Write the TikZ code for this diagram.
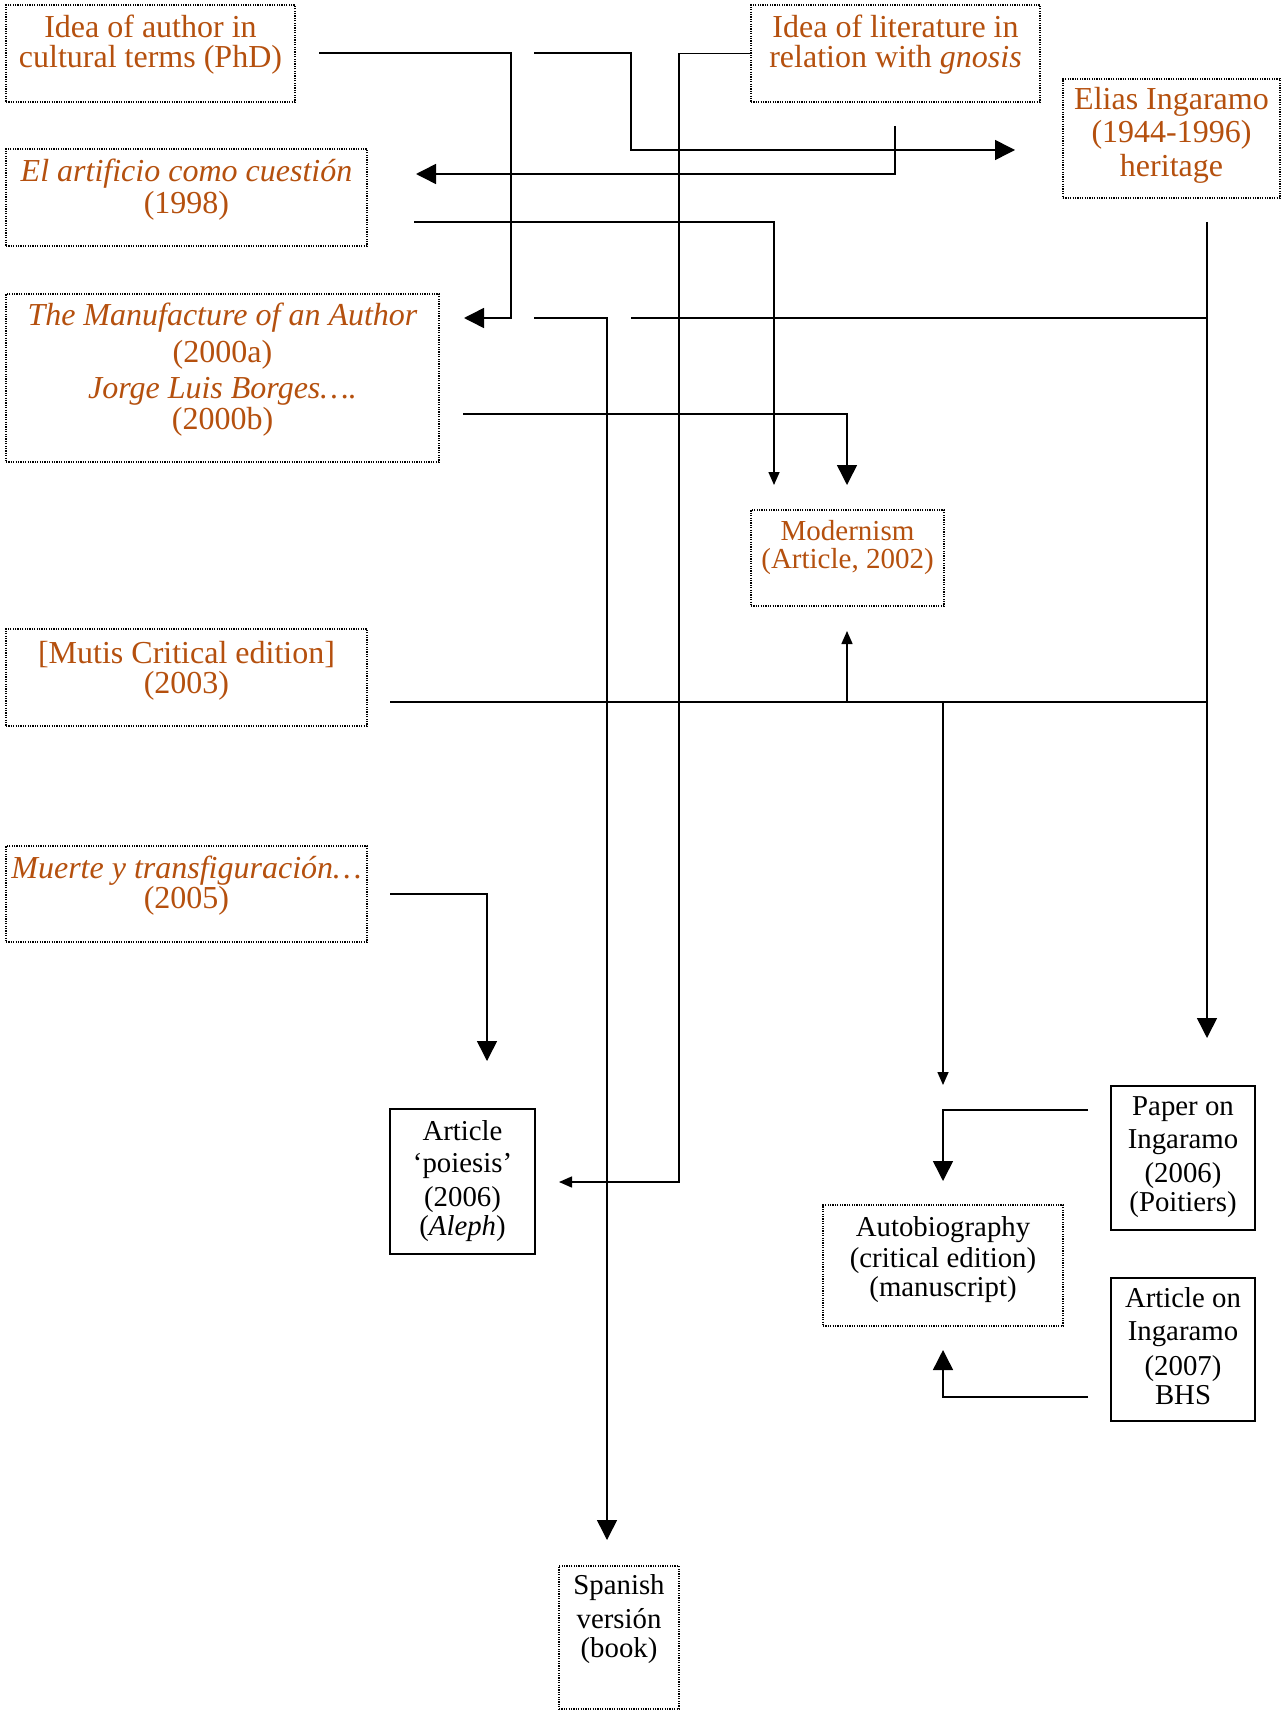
\documentclass[tikz,border=0pt]{standalone}
\usepackage{fontspec}
\setmainfont{Liberation Serif}
\usetikzlibrary{arrows.meta,calc}
\definecolor{brn}{RGB}{181,80,14}
\newcommand{\bx}[4]{\parbox[t][\dimexpr#2pt/2\relax][t]{\dimexpr#1pt/2\relax}{\centering\vspace*{\dimexpr#3pt/2-0.8em\relax}\rule{0pt}{0.8em}#4\par}}
\tikzset{
  dbox/.style={draw, line width=0.7pt, dash pattern=on 0.6pt off 0.6pt, inner sep=0pt, outer sep=0pt, anchor=north west},
  sbox/.style={draw, line width=1pt, inner sep=0pt, outer sep=0pt, anchor=north west},
  otxt/.style={text=brn, font=\fontsize{16}{15}\selectfont},
  mtxt/.style={text=brn, font=\fontsize{14.5}{14.2}\selectfont},
  ktxt/.style={text=black, font=\fontsize{14.4}{14.5}\selectfont},
  con/.style={line width=0.75pt},
  bigarr/.style={con, -{Triangle[length=10pt,width=10pt]}},
  smallarr/.style={con, -{Triangle[length=6.5pt,width=5.5pt]}},
}
\begin{document}
\begin{tikzpicture}[x=0.5pt,y=-0.5pt]
\path[use as bounding box, fill=white] (0,0) rectangle (1282,1712);

% boxes
\node[dbox,otxt] (phd) at (6,5) {\bx{289}{97}{33}{Idea of author in\\cultural terms (PhD)}};
\node[dbox,otxt] (gno) at (751,5) {\bx{289}{97}{33}{Idea of literature in\\relation with \textit{gnosis}}};
\node[dbox,otxt] (eli) at (1063,79) {\bx{217}{119}{31}{Elias Ingaramo\\[1.5pt](1944-1996)\\[2pt]heritage}};
\node[dbox,otxt] (art) at (6,149) {\bx{361}{97}{33}{\textit{El artificio como cuestión}\\[0.6pt](1998)}};
\node[dbox,otxt] (man) at (6,294) {\bx{433}{168}{31}{\textit{The Manufacture of an Author}\\[3.8pt](2000a)\\[2.8pt]\textit{Jorge Luis Borges….}\\[0.8pt](2000b)}};
\node[dbox,mtxt] (mod) at (751,510) {\bx{193}{96}{30}{Modernism\\(Article, 2002)}};
\node[dbox,otxt] (mut) at (6,629) {\bx{361}{97}{34}{[Mutis Critical edition]\\(2003)}};
\node[dbox,otxt] (mue) at (6,846) {\bx{361}{96}{32}{\textit{Muerte y transfiguración…}\\(2005)}};
\node[sbox,ktxt] (poi) at (390,1109) {\bx{145}{145}{31}{Article\\[1.75pt]‘poiesis’\\[2.3pt](2006)\\[0.3pt](\textit{Aleph})}};
\node[sbox,ktxt] (pap) at (1111,1086) {\bx{144}{144}{29}{Paper on\\[2.4pt]Ingaramo\\[2.4pt](2006)\\(Poitiers)}};
\node[dbox,ktxt] (aut) at (823,1205) {\bx{240}{121}{31}{Autobiography\\[1.3pt](critical edition)\\(manuscript)}};
\node[sbox,ktxt] (aon) at (1111,1278) {\bx{144}{143}{29}{Article on\\[2.4pt]Ingaramo\\[2.8pt](2007)\\BHS}};
\node[dbox,ktxt] (spa) at (559,1566) {\bx{120}{143}{28.5}{Spanish\\[2.4pt]versión\\(book)}};

% connector end points
\coordinate (c1a) at (319,53);   \coordinate (c1t) at (464,318);
\coordinate (c2a) at (534,53);   \coordinate (c2t) at (1015,150);
\coordinate (c3t) at (559,1182);
\coordinate (c4a) at (895,126);  \coordinate (c4t) at (416,174);
\coordinate (c5a) at (414,222);  \coordinate (c5t) at (774,485);
\coordinate (c6a) at (463,414);  \coordinate (c6t) at (847,485);
\coordinate (c7a) at (534,318);  \coordinate (c7t) at (607,1540);
\coordinate (c8a) at (631,318);  \coordinate (ej) at (1207,318);
\coordinate (c9a) at (1207,222); \coordinate (c9t) at (1207,1038);
\coordinate (c10a) at (390,702); \coordinate (c10b) at (1207,702);
\coordinate (c10u) at (847,702); \coordinate (c10ut) at (847,631);
\coordinate (c10d) at (943,702); \coordinate (c10dt) at (943,1085);
\coordinate (c11a) at (390,894); \coordinate (c11t) at (487,1061);
\coordinate (c12a) at (1088,1110); \coordinate (c12t) at (943,1181);
\coordinate (c13a) at (1088,1397); \coordinate (c13t) at (943,1350);

% connectors
\draw[bigarr] (c1a) -- ++(192,0) |- (c1t);
\draw[bigarr] (c2a) -- ++(97,0) |- (c2t);
\draw[smallarr] (gno.west) -- ++(-72,0) |- (c3t);
\draw[bigarr] (c4a) |- (c4t);
\draw[smallarr] (c5a) -| (c5t);
\draw[bigarr] (c6a) -| (c6t);
\draw[bigarr] (c7a) -| (c7t);
\draw[con] (c8a) -- (ej);
\draw[bigarr] (c9a) -- (c9t);
\draw[con] (c10a) -- (c10b);
\draw[smallarr] (c10u) -- (c10ut);
\draw[smallarr] (c10d) -- (c10dt);
\draw[bigarr] (c11a) -| (c11t);
\draw[bigarr] (c12a) -| (c12t);
\draw[bigarr] (c13a) -| (c13t);
\end{tikzpicture}
\end{document}
